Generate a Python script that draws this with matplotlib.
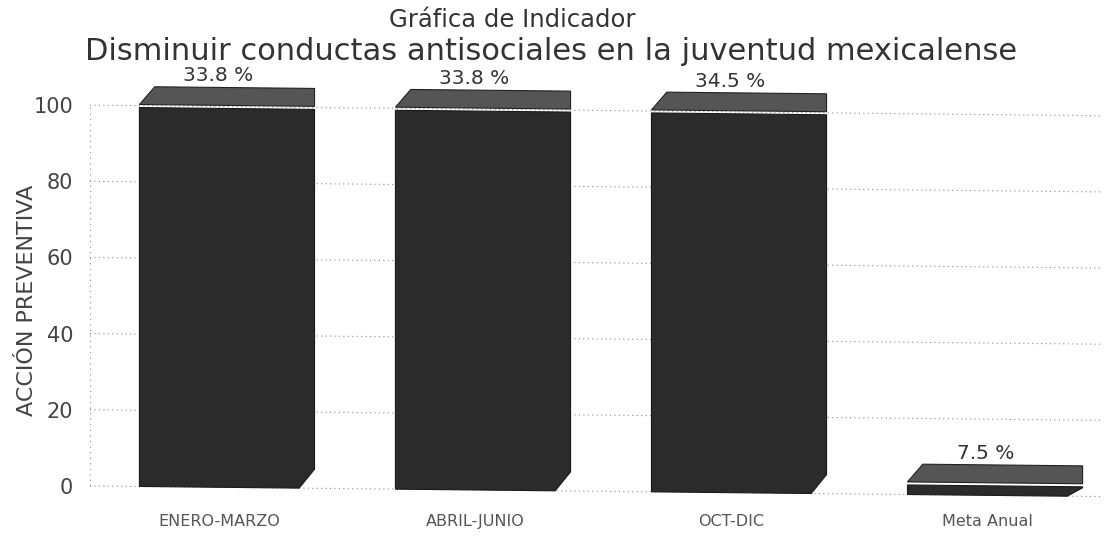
import numpy as np
import matplotlib
matplotlib.use("Agg")
import matplotlib.pyplot as plt
from matplotlib.patches import Polygon
from matplotlib.transforms import Affine2D

# ---- data ----
categories = ["ENERO-MARZO", "ABRIL-JUNIO", "OCT-DIC", "Meta Anual"]
values = [99.5, 99.5, 99.5, 2.5]
bar_labels = ["33.8 %", "33.8 %", "34.5 %", "7.5 %"]
yticks = [0, 20, 40, 60, 80, 100]
title_1 = "Gráfica de Indicador"
title_2 = "Disminuir conductas antisociales en la juventud mexicalense"
ylabel = "ACCIÓN PREVENTIVA"

# ---- layout ----
W, H = 1105, 538
fig = plt.figure(figsize=(W / 100, H / 100), dpi=100)
ax_l, ax_r, ax_t, ax_b = 90, 1100, 80, 500
ax = fig.add_axes([ax_l / W, 1 - ax_b / H, (ax_r - ax_l) / W, (ax_b - ax_t) / H])
ax.set_xlim(-0.535, 3.41)
ax.set_ylim(-3.7, 106.6)
for s in ax.spines.values():
    s.set_visible(False)

# slight perspective tilt (everything drops a little toward the right)
skew = Affine2D().translate(-ax_l, 0).skew(0, np.arctan(-0.0105)).translate(ax_l, 0)
tr = ax.transData + skew

xl, xr = ax.get_xlim()
grid_col = "#8a8a8a"
for v in yticks:
    ax.plot([xl, xr], [v, v], transform=tr, color=grid_col, lw=0.8,
            ls=(0, (1, 3)), zorder=1, clip_on=False)
ax.plot([xl, xl], [0, 100], transform=tr, color=grid_col, lw=0.8,
        ls=(0, (1, 4)), zorder=1, clip_on=False)

front_col = "#2b2b2b"
top_col = "#555555"
w = 0.684
gap, depth, dx = 0.8, 4.7, 0.06
cdx = 0.06
for i, (h, lab) in enumerate(zip(values, bar_labels)):
    x0, x1 = i - w / 2, i + w / 2
    ch = min(5.0, h * 0.9)
    front = Polygon([(x0, 0), (x1 - cdx, 0), (x1, ch), (x1, h), (x0, h)],
                    closed=True, transform=tr, facecolor=front_col,
                    edgecolor="#1a1a1a", lw=0.8, zorder=3)
    ax.add_patch(front)
    top = Polygon([(x0, h + gap), (x0 + dx, h + gap + depth), (x1, h + gap + depth), (x1, h + gap)],
                  closed=True, transform=tr, facecolor=top_col,
                  edgecolor="#222222", lw=0.8, zorder=3)
    ax.add_patch(top)
    ax.text(i - 0.035, h + gap + depth + 0.6, lab, transform=tr, ha="center", va="bottom",
            fontsize=14.5, color="#333333", zorder=4)

ax.set_yticks(yticks)
ax.set_yticklabels([str(t) for t in yticks], fontsize=15, color="#444444")
ax.set_xticks(np.arange(len(categories)) - 0.03)
ax.set_xticklabels(categories, fontsize=11.5, color="#555555")
ax.tick_params(axis="y", length=0, pad=12)
ax.tick_params(axis="x", length=0, pad=10)

fig.text(27 / W, 1 - 300 / H, ylabel, rotation=90, ha="center", va="center",
         fontsize=16, color="#444444")
fig.text(512 / W, 1 - 20 / H, title_1, ha="center", va="center", fontsize=17.5, color="#333333")
fig.text(551 / W, 1 - 52 / H, title_2, ha="center", va="center", fontsize=22, color="#333333")

fig.savefig("out.png", dpi=100, facecolor="white")
